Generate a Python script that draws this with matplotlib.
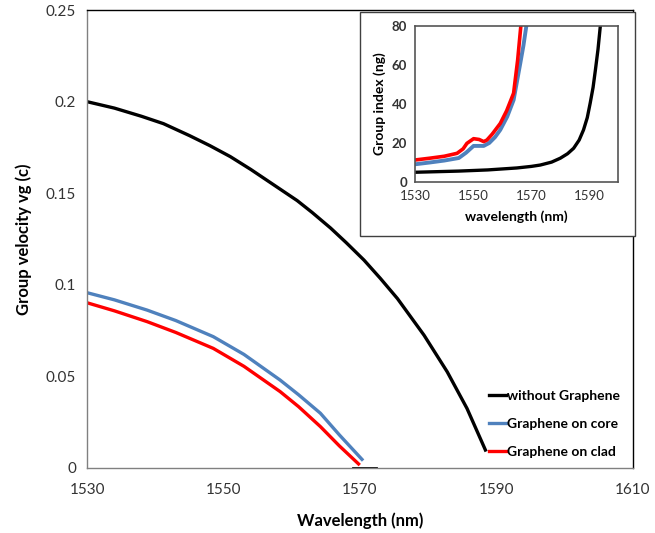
import numpy as np
import matplotlib.pyplot as plt
from matplotlib.patches import Rectangle

plt.rcParams['font.family'] = ['Lato', 'DejaVu Sans']

# main chart: group velocity vs wavelength
wl_black = [1530, 1534, 1538, 1541.2, 1545, 1548, 1551, 1554, 1557, 1560.8, 1563, 1565.7,
            1568, 1570.6, 1573, 1575.5, 1579.4, 1582.8, 1585.7, 1588.4]
vg_black = [0.200, 0.1965, 0.192, 0.188, 0.1815, 0.176, 0.170, 0.163, 0.1555, 0.146, 0.1395, 0.131,
            0.123, 0.1135, 0.1035, 0.0925, 0.0725, 0.0525, 0.0325, 0.0098]
wl_tail = [1569, 1572.3]
vg_tail = [0.0, 0.0]

wl_core = [1530, 1534, 1538.8, 1543, 1548.5, 1553, 1558.3, 1561, 1564.2, 1567, 1570.3]
vg_core = [0.0957, 0.0918, 0.0862, 0.0805, 0.0717, 0.062, 0.048, 0.040, 0.0299, 0.018, 0.0047]

wl_clad = [1530, 1534, 1538.8, 1543, 1548.5, 1553, 1558.3, 1561, 1564.2, 1567, 1569.8]
vg_clad = [0.0902, 0.0858, 0.0799, 0.074, 0.0653, 0.0555, 0.0417, 0.0335, 0.0226, 0.012, 0.0022]

# inset: group index vs wavelength
in_wl_black = [1530, 1545, 1555, 1565, 1570, 1573.1, 1577, 1580, 1582.5, 1584.6, 1586.5,
               1588, 1589.3, 1590.3, 1591.3, 1592.1, 1593, 1593.8]
in_ng_black = [5.0, 5.6, 6.2, 7.2, 8.0, 8.7, 10.2, 12.2, 14.5, 17.3, 21.5,
               26.7, 33.0, 40.4, 48.5, 57.4, 68.0, 80.0]

in_wl_core = [1530, 1535, 1540, 1545, 1547.5, 1550.1, 1553.6, 1555.5, 1557.5, 1559.3, 1561.7,
              1563.9, 1566.2, 1567.3, 1568.3]
in_ng_core = [9.1, 10.0, 11.0, 12.3, 15.0, 18.5, 18.5, 20.0, 23.0, 26.7, 33.5,
              42.0, 60.8, 70.0, 80.0]

in_wl_clad = [1530, 1535, 1540, 1544.4, 1546.5, 1547.8, 1550.1, 1552, 1553.6, 1554.7, 1556.5,
              1559.3, 1561.5, 1563.9, 1565.3, 1566.4]
in_ng_clad = [11.3, 12.2, 13.2, 14.7, 17.0, 19.8, 22.2, 21.8, 20.7, 21.5, 24.5,
              30.0, 36.5, 45.5, 62.5, 80.0]

fig = plt.figure(figsize=(6.55, 5.33), dpi=100)
ax = fig.add_axes([0.133, 0.122, 0.833, 0.859])

ax.plot(wl_black, vg_black, color='black', lw=2.4, label='without Graphene')
ax.plot(wl_core, vg_core, color='#4f81bd', lw=2.4, label='Graphene on core')
ax.plot(wl_clad, vg_clad, color='#ff0000', lw=2.4, label='Graphene on clad')
ax.plot(wl_tail, vg_tail, color='black', lw=2.0)

ax.set_xlim(1530, 1610)
ax.set_ylim(0, 0.25)
ax.set_xticks([1530, 1550, 1570, 1590, 1610])
ax.set_yticks([0, 0.05, 0.1, 0.15, 0.2, 0.25])
ax.set_yticklabels(['0', '0.05', '0.1', '0.15', '0.2', '0.25'])
ax.tick_params(length=0, labelsize=11, colors='#333333', pad=8)
ax.tick_params(axis='x', pad=11)
for s in ax.spines.values():
    s.set_color('#808080')
    s.set_linewidth(1.0)
ax.spines['top'].set_color('black')
ax.spines['right'].set_color('black')
ax.set_xlabel('Wavelength (nm)', fontsize=12, fontweight='bold', labelpad=11)
ax.set_ylabel('Group velocity vg (c)', fontsize=12, fontweight='bold', labelpad=10)

ax.legend(loc='lower right', frameon=False, fontsize=10, handlelength=1.2,
          handletextpad=0.1, labelspacing=1.15, bbox_to_anchor=(1.0, -0.005))
leg = ax.get_legend()
for t in leg.get_texts():
    t.set_fontweight('bold')

# inset outer box
fig.patches.append(Rectangle((0.5496, 0.557), 0.420, 0.420, transform=fig.transFigure,
                             facecolor='white', edgecolor='#404040', lw=1.0, zorder=5))

axi = fig.add_axes([0.634, 0.6585, 0.310, 0.293], zorder=6)
axi.plot(in_wl_black, in_ng_black, color='black', lw=2.4)
axi.plot(in_wl_core, in_ng_core, color='#4f81bd', lw=2.8)
axi.plot(in_wl_clad, in_ng_clad, color='#ff0000', lw=2.6)
axi.set_xlim(1530, 1600)
axi.set_ylim(0, 80)
axi.set_xticks([1530, 1550, 1570, 1590])
axi.set_yticks([0, 20, 40, 60, 80])
axi.tick_params(length=0, labelsize=9.5, colors='#333333', pad=6)
for t in axi.get_yticklabels():
    t.set_fontweight('bold')
for s in axi.spines.values():
    s.set_color('#555555')
    s.set_linewidth(1.2)
axi.set_xlabel('wavelength (nm)', fontsize=10, fontweight='bold', labelpad=6)
axi.set_ylabel('Group index (ng)', fontsize=10, fontweight='bold', labelpad=4)

fig.savefig('out.png', dpi=100)
